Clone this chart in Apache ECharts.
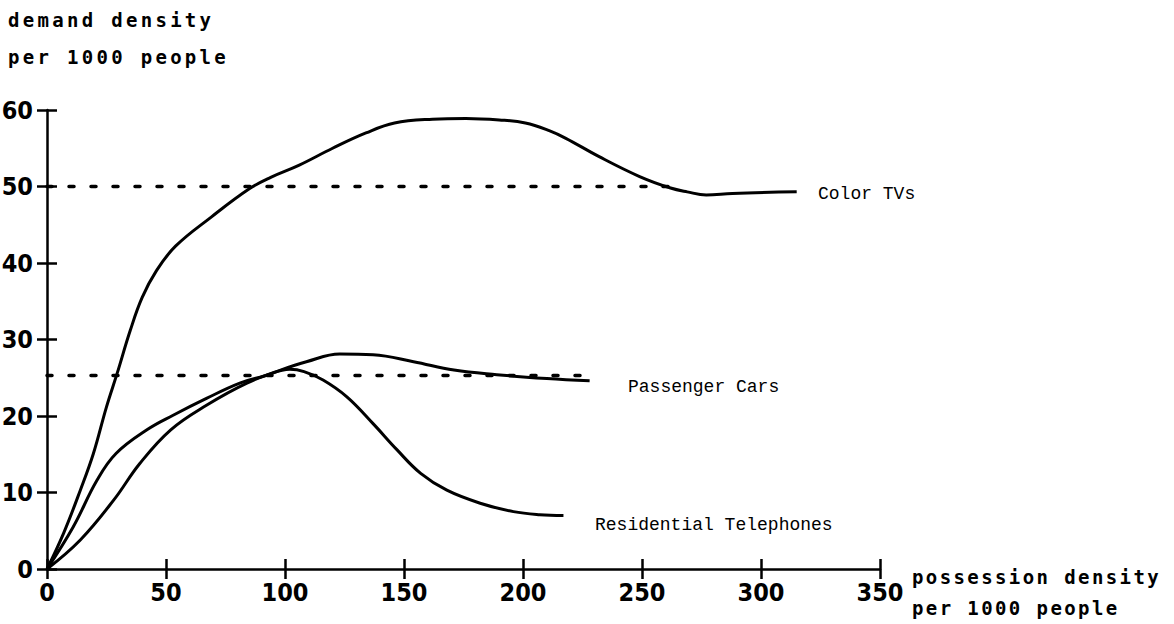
<!DOCTYPE html>
<html>
<head>
<meta charset="utf-8">
<script src="https://cdn.jsdelivr.net/npm/echarts@6/dist/echarts.min.js"></script>
<style>
  html, body { margin: 0; padding: 0; background: #fff; }
  #chart { width: 1174px; height: 624px; }
  text[style*="DejaVu Sans Mono"] { letter-spacing: 3.3px; }
  text[style*="Noto Mono"] { letter-spacing: 2.4px; }
</style>
</head>
<body>
<div id="chart"></div>
<script>
// ---- data ----
const xTicks = [0, 50, 100, 150, 200, 250, 300, 350];
const yTicks = [0, 10, 20, 30, 40, 50, 60];

const colorTvX = [0, 7, 14, 19.5, 25, 29.5, 35, 40, 46, 54, 69, 85, 94, 106, 120, 134, 146, 162, 176, 190, 201, 211, 218, 232, 249, 262, 269, 277, 288, 315];
const colorTvY = [0, 4.7, 10.3, 15.1, 21.2, 25.6, 31.2, 35.5, 39, 42.2, 46, 49.7, 51.2, 52.8, 55, 57, 58.3, 58.8, 58.9, 58.7, 58.3, 57.3, 56.3, 53.9, 51.3, 49.8, 49.3, 48.9, 49.1, 49.3];

const telX = [0, 11, 21, 29, 42, 53, 67, 81, 91, 102, 108, 116, 126, 137, 147, 157, 168, 182, 196, 207, 217];
const telY = [0, 5.5, 11.6, 15.1, 18.2, 20.1, 22.3, 24.3, 25.2, 26.1, 25.8, 24.7, 22.5, 19.0, 15.6, 12.5, 10.3, 8.6, 7.5, 7.1, 7.0];

const carX = [0, 14, 28, 39, 52, 67, 84, 99, 109, 123, 137, 154, 171, 189, 210, 228];
const carY = [0, 3.8, 9.0, 13.8, 18.2, 21.4, 24.3, 26.1, 27.1, 28.1, 28.0, 27.1, 26.0, 25.4, 24.9, 24.6];

const tvLevelX = [0, 265];
const tvLevelY = [50, 50];
const carLevelX = [0, 230];
const carLevelY = [25.3, 25.3];

const seriesNames = ['Color TVs', 'Passenger Cars', 'Residential Telephones'];
const yTitle = ['demand density', 'per 1000 people'];
const xTitle = ['possession density', 'per 1000 people'];

// ---- chart ----
const zip = (xs, ys) => xs.map((x, i) => [x, ys[i]]);
const numFont = '"Liberation Sans Narrow", "DejaVu Sans Condensed", "Liberation Sans", sans-serif';
const yTitleFont = '"DejaVu Sans Mono", monospace';
const xTitleFont = '"DejaVu Sans Mono", "Noto Mono", monospace';
const labelFont = '"Liberation Mono", monospace';
const black = '#000';
const axisLineStyle = { color: black, width: 2.5 };

function mkAxis(kind, ticks, primary) {
  return {
    type: 'value',
    min: ticks[0],
    max: ticks[ticks.length - 1],
    interval: ticks[1] - ticks[0],
    position: kind === 'x' ? 'bottom' : 'left',
    axisLine: { show: primary, onZero: false, lineStyle: axisLineStyle },
    axisTick: { show: true, inside: !primary, length: 10, lineStyle: axisLineStyle },
    axisLabel: primary ? {
      show: true, color: black, fontFamily: numFont, fontWeight: 'bold', fontSize: 25,
      margin: kind === 'x' ? 11 : 14
    } : { show: false },
    splitLine: { show: false }
  };
}

const curve = (name, xs, ys) => ({
  name, type: 'line', data: zip(xs, ys), smooth: 0.4, symbol: 'none',
  lineStyle: { color: black, width: 3 }, xAxisIndex: 0, yAxisIndex: 0, z: 3
});
const level = (xs, ys) => ({
  type: 'line', data: zip(xs, ys), symbol: 'none',
  lineStyle: { color: black, width: 3.5, type: [5, 17], cap: 'round' },
  xAxisIndex: 0, yAxisIndex: 0, z: 2
});

const txt = (text, x, y, font, size, weight) => ({
  type: 'text', x, y,
  style: { text, fill: black, fontFamily: font, fontSize: size, fontWeight: weight,
           align: 'left', textAlign: 'left', verticalAlign: 'middle', textVerticalAlign: 'middle' }
});

const chart = echarts.init(document.getElementById('chart'), null, { renderer: 'svg' });
chart.setOption({
  animation: false,
  backgroundColor: '#fff',
  grid: { left: 47, right: 294, top: 110, bottom: 55, containLabel: false, outerBoundsMode: 'none' },
  xAxis: [mkAxis('x', xTicks, true), mkAxis('x', xTicks, false)],
  yAxis: [mkAxis('y', yTicks, true), mkAxis('y', yTicks, false)],
  series: [
    level(tvLevelX, tvLevelY),
    level(carLevelX, carLevelY),
    curve(seriesNames[0], colorTvX, colorTvY),
    curve(seriesNames[1], carX, carY),
    curve(seriesNames[2], telX, telY)
  ],
  graphic: [
    txt(yTitle[0], 8, 20, yTitleFont, 19, 'bold'),
    txt(yTitle[1], 8, 57, yTitleFont, 19, 'bold'),
    txt(xTitle[0], 912, 577, xTitleFont, 19, 'bold'),
    txt(xTitle[1], 912, 608, xTitleFont, 19, 'bold'),
    txt(seriesNames[0], 818, 194, labelFont, 18, 'normal'),
    txt(seriesNames[1], 628, 387, labelFont, 18, 'normal'),
    txt(seriesNames[2], 595, 525, labelFont, 18, 'normal')
  ]
});
</script>
</body>
</html>
